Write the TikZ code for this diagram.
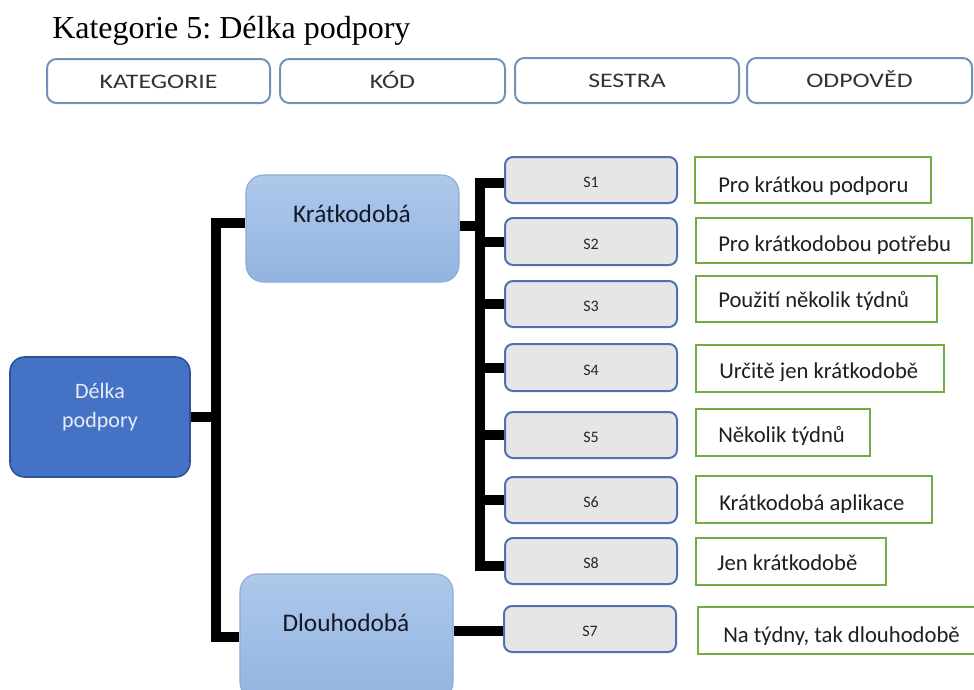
\documentclass[tikz,border=0pt]{standalone}
\usepackage{fontspec}
\usepackage{graphicx}
\setmainfont{Liberation Serif}
\newfontfamily\carl{Carlito}
\usetikzlibrary{calc}

\definecolor{hdrline}{RGB}{112,146,186}
\definecolor{rootfill}{RGB}{68,114,196}
\definecolor{rootline}{RGB}{47,82,150}
\definecolor{roottext}{RGB}{230,237,248}
\definecolor{midtop}{RGB}{175,200,235}
\definecolor{midbot}{RGB}{146,180,224}
\definecolor{midline}{RGB}{140,172,214}
\definecolor{midtext}{RGB}{20,24,40}
\definecolor{sfill}{RGB}{231,230,230}
\definecolor{sline}{RGB}{80,112,180}
\definecolor{aline}{RGB}{112,173,71}

% a node given by its two corners (in picture units)
\newcommand\boxnode[7]{%
  \node[#1, minimum width={(#5-#3)*0.75pt}, minimum height={(#6-#4)*0.75pt}]
    (#2) at ({(#3+#5)/2},{(#4+#6)/2}) {#7};}

\begin{document}
\frenchspacing
\begin{tikzpicture}[
  x=0.75pt, y=-0.75pt,
  hbox/.style={draw=hdrline, line width=1.5pt, rounded corners=7pt, fill=white,
    inner sep=0pt, text height=10.5pt, text depth=0pt,
    font=\carl\fontsize{15.5}{18}\selectfont, text=black!80},
  rootbox/.style={draw=rootline, line width=1.2pt, fill=rootfill,
    rounded corners=11pt, inner sep=0pt},
  roottxt/.style={align=center, inner sep=0pt, text=roottext,
    font=\carl\fontsize{16.5}{21.5}\selectfont},
  midbox/.style={draw=midline, line width=0.8pt, top color=midtop,
    bottom color=midbot, rounded corners=13pt, inner sep=0pt},
  midtxt/.style={inner sep=0pt, text=midtext, font=\carl\fontsize{19}{22}\selectfont},
  sbox/.style={draw=sline, line width=1.5pt, fill=sfill, rounded corners=6pt,
    inner sep=0pt, text height=11.5pt, text depth=0pt,
    font=\carl\fontsize{12}{13}\selectfont, text=black!85},
  abox/.style={draw=aline, line width=2pt, fill=white, inner sep=0pt},
  atxt/.style={anchor=base west, inner sep=0pt, text=black!88,
    font=\carl\fontsize{17}{20}\selectfont},
  conn/.style={line width=7.5pt, line join=miter, black}
]
\useasboundingbox (0,0) rectangle (974,689);
\clip (0,0) rectangle (974,689);
\fill[white] (0,0) rectangle (974,689);

% title
\node[anchor=base west, inner sep=0pt, font=\fontsize{24}{28}\selectfont]
  (title) at (52,38) {Kategorie 5: Délka podpory};

% column headers
\boxnode{hbox}{h1}{47}{59}{270}{103}{\scalebox{1.25}[1]{KATEGORIE}}
\boxnode{hbox}{h2}{280}{59}{505}{103}{\scalebox{1.25}[1]{KÓD}}
\boxnode{hbox}{h3}{515}{58}{739}{103}{\scalebox{1.25}[1]{SESTRA}}
\boxnode{hbox}{h4}{747}{58}{972}{103}{\scalebox{1.25}[1]{ODPOVĚD}}

% tree: root and the two durations
\boxnode{rootbox}{root}{10}{357}{190}{477}{}
\node[roottxt] (rootlbl) at (100,407) {Délka\\podpory};
\boxnode{midbox}{kr}{246}{175}{459}{282}{}
\node[midtxt] (krlbl) at (352,214) {Krátkodobá};
\boxnode{midbox}{dl}{240}{574}{453}{700}{}
\node[midtxt] (dllbl) at (346,623) {Dlouhodobá};

% nurse codes
\boxnode{sbox}{s1}{505}{157}{677}{203}{S1}
\boxnode{sbox}{s2}{505}{218}{677}{265}{S2}
\boxnode{sbox}{s3}{505}{281}{677}{327}{S3}
\boxnode{sbox}{s4}{505}{344}{677}{391}{S4}
\boxnode{sbox}{s5}{505}{412}{677}{458}{S5}
\boxnode{sbox}{s6}{505}{477}{677}{523}{S6}
\boxnode{sbox}{s8}{505}{538}{677}{584}{S8}
\boxnode{sbox}{s7}{504}{606}{676}{652}{S7}

% answers (text cut just below its baseline)
\newcommand\answer[8]{%
  \boxnode{abox}{#1}{#2}{#3}{#4}{#5}{}
  \begin{scope}
    \clip (#2,#3) rectangle (980,#7+2.5);
    \node[atxt] (#1t) at (#6,#7) {#8};
  \end{scope}}
\answer{a1}{695}{157}{931}{203}{718}{192}{Pro krátkou podporu}
\answer{a2}{696}{218}{972}{263}{718}{251}{Pro krátkodobou potřebu}
\answer{a3}{696}{276}{937}{322}{718}{307}{Použití několik týdnů}
\answer{a4}{696}{345}{944}{392}{719}{378}{Určitě jen krátkodobě}
\answer{a5}{696}{409}{870}{456}{718}{442}{Několik týdnů}
\answer{a6}{696}{476}{932}{523}{719}{510}{Krátkodobá aplikace}
\answer{a7}{696}{538}{886}{585}{717}{570}{Jen krátkodobě}
\answer{a8}{698}{607}{978}{654}{723}{642}{Na týdny, tak dlouhodobě}

% connectors
\coordinate (busA) at (216,0);
\coordinate (busB) at (480,0);
\coordinate (krW) at ([yshift=4.5pt]kr.west);
\coordinate (krE) at ([yshift=1.9pt]kr.east);
\coordinate (s1W) at ([yshift=-2pt]s1.west);
\coordinate (s8W) at ([yshift=-3.5pt]s8.west);
\coordinate (s7W) at ([yshift=-1.5pt]s7.west);
\draw[conn] (root.east) -- (busA |- root.east);
\draw[conn] (krW) -| (busA |- dl.west) -- (dl.west);
\draw[conn] (krE) -- (busB |- krE);
\draw[conn] (s1W) -| (busB |- s8W) -- (s8W);
\foreach \s in {s2,s3,s4,s5,s6}
  \draw[conn] (busB |- \s.west) -- (\s.west);
\draw[conn] (dl.east |- s7W) -- (s7W);
\end{tikzpicture}
\end{document}
